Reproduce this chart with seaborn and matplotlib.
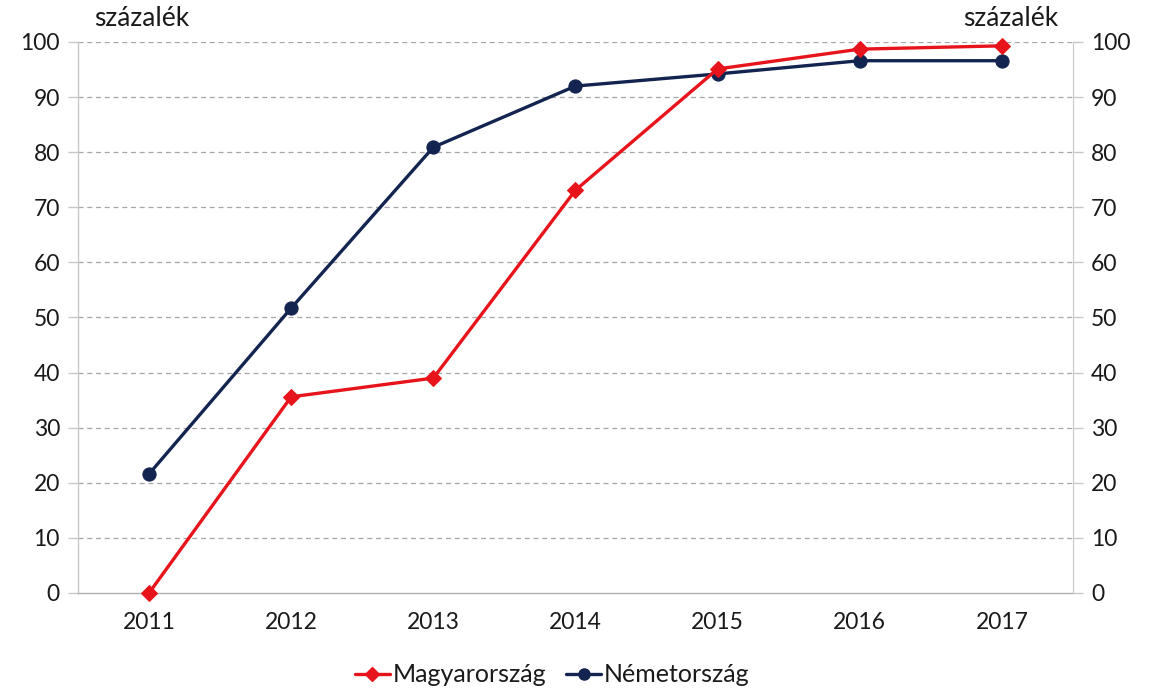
import pandas as pd
import seaborn as sns
import matplotlib.pyplot as plt
from matplotlib.ticker import FixedLocator
from matplotlib.lines import Line2D

# data
years = ["2011", "2012", "2013", "2014", "2015", "2016", "2017"]
magyar = [0.0, 35.6, 39.0, 73.1, 95.1, 98.7, 99.3]
nemet = [21.6, 51.7, 80.9, 92.0, 94.2, 96.6, 96.6]
series_names = ["Magyarország", "Németország"]
y_ticks = [0, 10, 20, 30, 40, 50, 60, 70, 80, 90, 100]

red = "#e8141c"
navy = "#12244f"
text_col = "#1a1a1a"

df = pd.DataFrame({"year": years, series_names[0]: magyar, series_names[1]: nemet})

sns.set_style("white")
plt.rcParams["font.family"] = ["Lato", "DejaVu Sans"]

fig = plt.figure(figsize=(11.5, 6.95), dpi=100)
ax = fig.add_axes([0.0678, 0.1468, 0.8652, 0.7928])

sns.lineplot(data=df, x="year", y=series_names[0], ax=ax, color=red, linewidth=2.4,
             marker="D", markersize=8, markeredgecolor=red, sort=False, zorder=4, clip_on=False)
sns.lineplot(data=df, x="year", y=series_names[1], ax=ax, color=navy, linewidth=2.4,
             marker="o", markersize=9.5, markeredgecolor=navy, sort=False, zorder=3, clip_on=False)

ax.set_xlim(-0.5, len(years) - 0.5)
ax.set_ylim(0, 100)
ax.set_yticks(y_ticks)
ax.set_xlabel("")
ax.set_ylabel("")

# grid
for v in y_ticks[1:]:
    ax.axhline(v, color="#a6a6a6", linewidth=0.9, linestyle=(0, (4, 3)), zorder=1)

# spines
for s in ["top", "right"]:
    ax.spines[s].set_visible(False)
ax.spines["left"].set_color("#c8c8c8")
ax.spines["bottom"].set_color("#b0b0b0")
ax.spines["bottom"].set_linewidth(1.0)
ax.spines["left"].set_linewidth(1.0)

# x ticks: labels centered, tick marks between categories
ax.xaxis.set_minor_locator(FixedLocator([i - 0.5 for i in range(len(years) + 1)]))
ax.tick_params(axis="x", which="major", length=0, pad=14, labelsize=16.5, labelcolor=text_col)
ax.tick_params(axis="x", which="minor", length=7, color="#b0b0b0", width=1.0)
ax.tick_params(axis="y", length=7, color="#c8c8c8", width=1.0, pad=6, labelsize=16.5, labelcolor=text_col)

# right axis
ax2 = ax.twinx()
ax2.set_ylim(0, 100)
ax2.set_yticks(y_ticks)
for s in ["top", "left", "bottom"]:
    ax2.spines[s].set_visible(False)
ax2.spines["right"].set_color("#c8c8c8")
ax2.tick_params(axis="y", length=7, color="#c8c8c8", width=1.0, pad=6, labelsize=16.5, labelcolor=text_col)

# unit labels
fig.text(0.082, 0.955, "százalék", fontsize=19, color=text_col, ha="left", va="bottom")
fig.text(0.920, 0.955, "százalék", fontsize=19, color=text_col, ha="right", va="bottom")

# legend
handles = [
    Line2D([], [], color=red, linewidth=2.4, marker="D", markersize=7),
    Line2D([], [], color=navy, linewidth=2.4, marker="o", markersize=8),
]
fig.legend(handles, series_names, loc="lower center", bbox_to_anchor=(0.48, -0.02), ncol=2,
           frameon=False, fontsize=18, handlelength=1.4, handletextpad=0.1, columnspacing=0.8,
           labelcolor=text_col)

fig.savefig("out.png", dpi=100)
